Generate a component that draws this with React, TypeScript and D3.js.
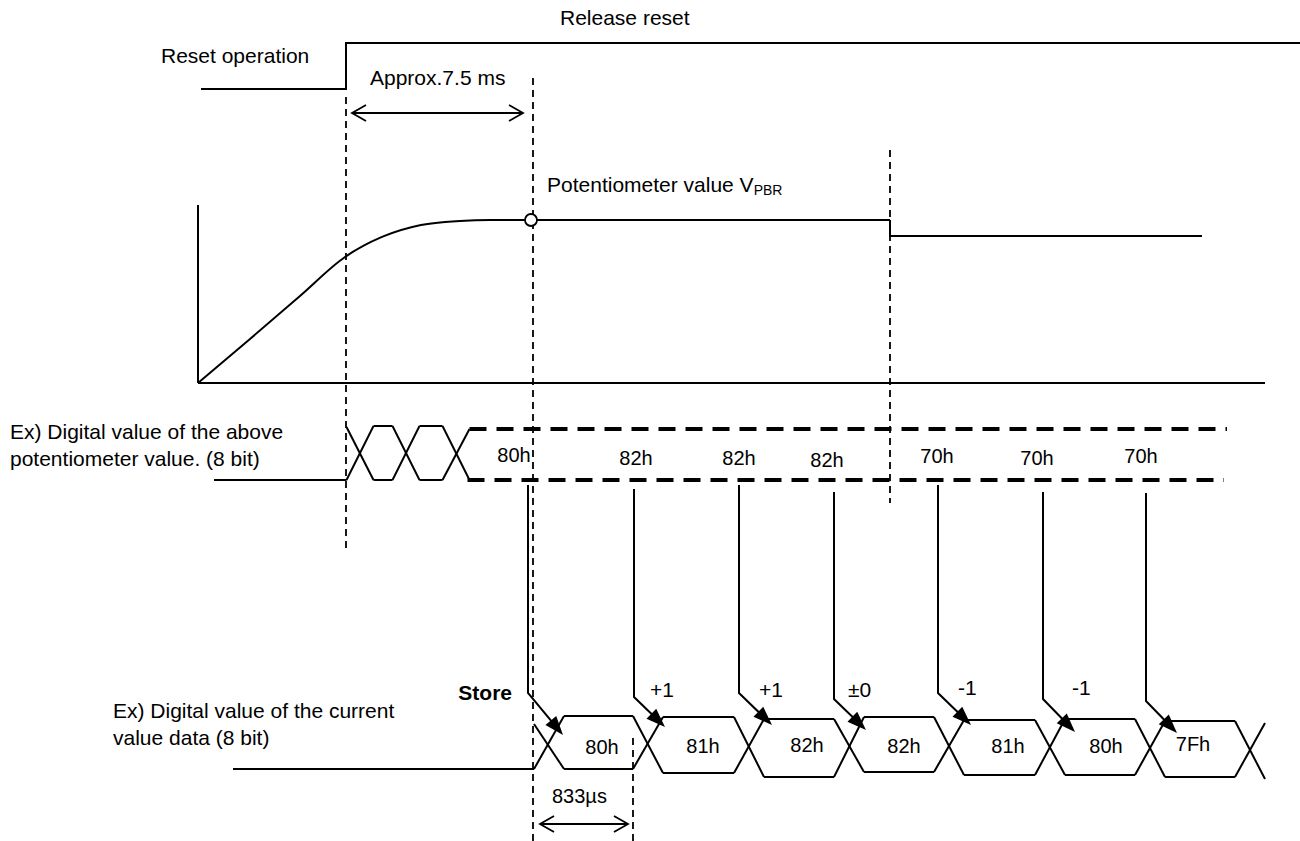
import React from 'react';
import * as d3 from 'd3';

const W = 1300;
const H = 841;
const FONT = '"Liberation Sans", Arial, sans-serif';
const FS = 21;

// ---- data ----
// Reset signal (x in diagram units, level 0 = reset, 1 = released)
const resetX = [201, 346, 346, 1300];
const resetLevel = [0, 0, 1, 1];

// Potentiometer analog value (relative level, 1 = settled value)
const potX = [198, 250, 300, 345, 382, 421, 460, 490, 531, 890];
const potV = [0, 0.27, 0.534, 0.773, 0.896, 0.969, 0.994, 1, 1, 1];
const potStepX = [890, 890, 1202];
const potStepV = [1, 0.902, 0.902];

// Row 1: digital value of the potentiometer (unstable crossings, then samples)
const rawCross = [360, 406, 456];
const rawLabels = ['80h', '82h', '82h', '82h', '70h', '70h', '70h'];
const rawLabelX = [514, 636, 739, 827, 937, 1037, 1141];
const rawLabelY = [462, 465, 465, 467, 463, 465, 463];

// sampling arrows
const sampleX = [528, 634, 739, 834, 938, 1043, 1146];
const sampleTop = [485, 489, 485, 492, 485, 492, 493];
const sampleBend = [693, 697, 693, 699, 693, 699, 701];
const sampleTipDx = [35, 31, 33, 32, 33, 32, 31];
const sampleTipDy = [42, 30, 32, 31, 32, 33, 32];
const deltaLabels = ['Store', '+1', '+1', '±0', '-1', '-1', ''];
const deltaDx = [-16, 16, 20, 14, 20, 29, 0];
const deltaY = [700, 697, 697, 697, 695, 695, 0];

// Row 2: current value data
const curCross = [549, 648, 749, 849, 949, 1050, 1150, 1250];
const curLabels = ['80h', '81h', '82h', '82h', '81h', '80h', '7Fh'];
const curLabelX = [602, 703, 807, 904, 1008, 1106, 1193];
const curLabelY = [754, 753, 752, 753, 753, 753, 751];
const curTop = [716, 717, 719, 717, 720, 719, 721];
const curBottom = [769, 773, 777, 772, 775, 775, 777];

export default function App() {
  const x = d3.scaleLinear().domain([0, W]).range([0, W]);
  const yReset = d3.scaleLinear().domain([0, 1]).range([89, 43]);
  const yPot = d3.scaleLinear().domain([0, 1]).range([383, 220]);

  const line = d3.line<[number, number]>();
  const curve = d3.line<[number, number]>().curve(d3.curveMonotoneX);

  const resetPath = line(resetX.map((v, i) => [x(v), yReset(resetLevel[i])]))!;
  const potPath = curve(potX.map((v, i) => [x(v), yPot(potV[i])]))!;
  const potStepPath = line(potStepX.map((v, i) => [x(v), yPot(potStepV[i])]))!;

  const stroke = '#000';
  const sw = 2;

  // row 1 geometry
  const r1Top = 426;
  const r1Bot = 480;
  const r1DashTop = 429;
  const r1Half = 13.5;
  const row1: string[] = [];
  row1.push(line([[x(214), r1Bot], [x(rawCross[0] - r1Half), r1Bot]])!);
  rawCross.forEach((c, i) => {
    const last = i === rawCross.length - 1;
    row1.push(line([[x(c - r1Half), r1Top + (i === 0 ? 1 : 0)], [x(c + r1Half), r1Bot]])!);
    row1.push(line([[x(c - r1Half), r1Bot], [x(c + r1Half), last ? r1DashTop : r1Top]])!);
    if (!last) {
      const n = rawCross[i + 1];
      row1.push(line([[x(c + r1Half), r1Top], [x(n - r1Half), r1Top]])!);
      row1.push(line([[x(c + r1Half), r1Bot], [x(n - r1Half), r1Bot]])!);
    }
  });
  const lastRaw = rawCross[rawCross.length - 1] + r1Half;

  // row 2 geometry
  const r2Half = 15;
  const row2: string[] = [];
  row2.push(line([[x(233), curBottom[0]], [x(curCross[0] - r2Half), curBottom[0]]])!);
  curCross.forEach((c, i) => {
    const pTop = i === 0 ? curTop[0] + 8 : curTop[i - 1];
    const pBot = i === 0 ? curBottom[0] : curBottom[i - 1];
    const nTop = i < curTop.length ? curTop[i] : curTop[i - 1] + 2;
    const nBot = i < curBottom.length ? curBottom[i] : curBottom[i - 1] + 2;
    row2.push(line([[x(c - r2Half), pTop], [x(c + r2Half), nBot]])!);
    row2.push(line([[x(c - r2Half), pBot], [x(c + r2Half), nTop]])!);
    if (i < curCross.length - 1) {
      const n = curCross[i + 1];
      row2.push(line([[x(c + r2Half), curTop[i]], [x(n - r2Half), curTop[i]]])!);
      row2.push(line([[x(c + r2Half), curBottom[i]], [x(n - r2Half), curBottom[i]]])!);
    }
  });

  const dashThin = '7,5';

  const arrowHead = (tx: number, ty: number, ang: number, len = 19, half = 7) => {
    const ux = Math.cos(ang), uy = Math.sin(ang);
    const bx = tx - ux * len, by = ty - uy * len;
    return `M${tx},${ty}L${bx - uy * half},${by + ux * half}L${bx + uy * half},${by - ux * half}Z`;
  };
  const chevron = (tx: number, ty: number, dir: number) => {
    const l = 14, h = 8;
    return `M${tx - dir * l},${ty - h}L${tx},${ty}L${tx - dir * l},${ty + h}`;
  };

  return (
    <svg
      width={W}
      height={H}
      style={{ position: 'absolute', left: 0, top: 0, background: '#fff' }}
      fontFamily={FONT}
    >
      <rect width={W} height={H} fill="#fff" />
      {/* top texts */}
      <text x={x(560)} y={25} fontSize={FS}>Release reset</text>
      <text x={x(161)} y={63} fontSize={FS}>Reset operation</text>
      <path d={resetPath} fill="none" stroke={stroke} strokeWidth={sw} />

      {/* dashed guide lines */}
      <line x1={x(346)} x2={x(346)} y1={97} y2={553} stroke={stroke} strokeWidth={1.8} strokeDasharray={dashThin} />
      <line x1={x(533)} x2={x(533)} y1={78} y2={841} stroke={stroke} strokeWidth={1.8} strokeDasharray={dashThin} />
      <line x1={x(890)} x2={x(890)} y1={150} y2={503} stroke={stroke} strokeWidth={1.8} strokeDasharray={dashThin} />
      <line x1={x(633)} x2={x(633)} y1={738} y2={841} stroke={stroke} strokeWidth={1.8} strokeDasharray={dashThin} />

      {/* Approx 7.5 ms */}
      <text x={x(370)} y={85} fontSize={FS}>Approx.7.5 ms</text>
      <line x1={x(352)} x2={x(523)} y1={113} y2={113} stroke={stroke} strokeWidth={1.8} />
      <path d={chevron(x(352), 113, -1)} fill="none" stroke={stroke} strokeWidth={1.8} />
      <path d={chevron(x(523), 113, 1)} fill="none" stroke={stroke} strokeWidth={1.8} />

      {/* analog graph */}
      <line x1={x(198)} x2={x(198)} y1={205} y2={383} stroke={stroke} strokeWidth={sw} />
      <line x1={x(198)} x2={x(1265)} y1={383} y2={383} stroke={stroke} strokeWidth={sw} />
      <path d={potPath} fill="none" stroke={stroke} strokeWidth={sw} />
      <path d={potStepPath} fill="none" stroke={stroke} strokeWidth={sw} />
      <circle cx={x(531)} cy={yPot(1)} r={6} fill="#fff" stroke={stroke} strokeWidth={1.8} />
      <text x={x(547)} y={192} fontSize={FS}>
        Potentiometer value V<tspan fontSize={14} dy={3}>PBR</tspan>
      </text>

      {/* row 1 */}
      <text x={10} y={439} fontSize={FS}>Ex) Digital value of the above</text>
      <text x={10} y={466} fontSize={FS}>potentiometer value. (8 bit)</text>
      {row1.map((d, i) => (
        <path key={'r1' + i} d={d} fill="none" stroke={stroke} strokeWidth={sw} />
      ))}
      <line x1={x(lastRaw)} x2={x(1227)} y1={r1DashTop} y2={r1DashTop} stroke={stroke} strokeWidth={4} strokeDasharray="17,10" />
      <line x1={x(lastRaw - 2)} x2={x(1224)} y1={r1Bot} y2={r1Bot} stroke={stroke} strokeWidth={4} strokeDasharray="17,10" />
      {rawLabels.map((t, i) => (
        <text key={'rl' + i} x={x(rawLabelX[i])} y={rawLabelY[i]} fontSize={20} textAnchor="middle">{t}</text>
      ))}

      {/* sampling arrows */}
      {sampleX.map((sx, i) => {
        const bx = x(sx), by = sampleBend[i];
        const tx = bx + sampleTipDx[i], ty = by + sampleTipDy[i];
        const ang = Math.atan2(ty - by, tx - bx);
        return (
          <g key={'s' + i}>
            <path d={line([[bx, sampleTop[i]], [bx, by], [tx - Math.cos(ang) * 10, ty - Math.sin(ang) * 10]])!} fill="none" stroke={stroke} strokeWidth={sw} />
            <path d={arrowHead(tx, ty, ang)} fill={stroke} />
            {deltaLabels[i] === 'Store' ? (
              <text x={bx + deltaDx[i]} y={deltaY[i]} fontSize={FS} fontWeight="bold" textAnchor="end">{deltaLabels[i]}</text>
            ) : deltaLabels[i] ? (
              <text x={bx + deltaDx[i]} y={deltaY[i]} fontSize={FS}>{deltaLabels[i]}</text>
            ) : null}
          </g>
        );
      })}

      {/* row 2 */}
      <text x={113} y={718} fontSize={FS}>Ex) Digital value of the current</text>
      <text x={113} y={745} fontSize={FS}>value data (8 bit)</text>
      {row2.map((d, i) => (
        <path key={'r2' + i} d={d} fill="none" stroke={stroke} strokeWidth={sw} />
      ))}
      {curLabels.map((t, i) => (
        <text key={'cl' + i} x={x(curLabelX[i])} y={curLabelY[i]} fontSize={20} textAnchor="middle">{t}</text>
      ))}

      {/* 833 us */}
      <text x={x(552)} y={803} fontSize={20}>833µs</text>
      <line x1={x(540)} x2={x(628)} y1={824} y2={824} stroke={stroke} strokeWidth={1.8} />
      <path d={chevron(x(540), 824, -1)} fill="none" stroke={stroke} strokeWidth={1.8} />
      <path d={chevron(x(628), 824, 1)} fill="none" stroke={stroke} strokeWidth={1.8} />
    </svg>
  );
}
